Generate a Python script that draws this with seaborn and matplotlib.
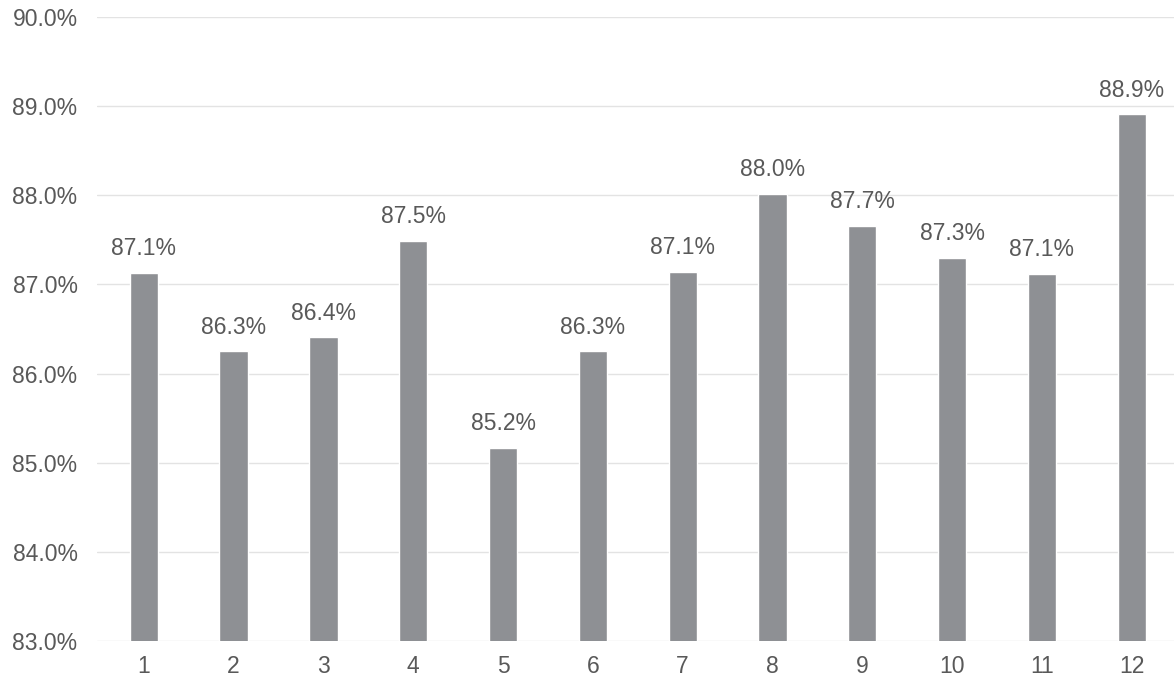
import matplotlib
matplotlib.use("Agg")
import matplotlib.pyplot as plt
import seaborn as sns
import pandas as pd
from matplotlib.ticker import FuncFormatter

categories = ["1", "2", "3", "4", "5", "6", "7", "8", "9", "10", "11", "12"]
values = [87.13, 86.25, 86.41, 87.49, 85.17, 86.25, 87.14, 88.02, 87.66, 87.30, 87.12, 88.91]
labels = ["87.1%", "86.3%", "86.4%", "87.5%", "85.2%", "86.3%",
          "87.1%", "88.0%", "87.7%", "87.3%", "87.1%", "88.9%"]
y_ticks = [83, 84, 85, 86, 87, 88, 89, 90]

sns.set_theme(style="white")
plt.rcParams['font.family'] = ['Liberation Sans', 'DejaVu Sans']

df = pd.DataFrame({"cat": categories, "val": values})

fig = plt.figure(figsize=(11.74, 6.86), dpi=100)
ax = fig.add_axes([97/1174, 1 - 641/686, 1 - 97/1174, (641 - 17)/686])

sns.barplot(data=df, x="cat", y="val", color="#8e9094", width=0.315,
            saturation=1, ax=ax, zorder=3)

ax.set_ylim(83, 90)
ax.set_xlim(-0.52, 11.47)
ax.set_yticks(y_ticks)
ax.yaxis.set_major_formatter(FuncFormatter(lambda v, p: f"{v:.1f}%"))
ax.grid(axis="y", color="#e3e3e3", linewidth=1, zorder=0)
ax.grid(axis="x", visible=False)
for s in ax.spines.values():
    s.set_visible(False)
ax.tick_params(axis="both", length=0, labelsize=16.5, labelcolor="#595959")
ax.tick_params(axis="y", pad=14)
ax.tick_params(axis="x", pad=10)
ax.set_xlabel("")
ax.set_ylabel("")

for i, (v, lab) in enumerate(zip(values, labels)):
    ax.annotate(lab, xy=(i, v), xytext=(0, 9), textcoords="offset points",
                ha="center", va="bottom", fontsize=16.5, color="#595959")

fig.savefig("out.png", dpi=100)
